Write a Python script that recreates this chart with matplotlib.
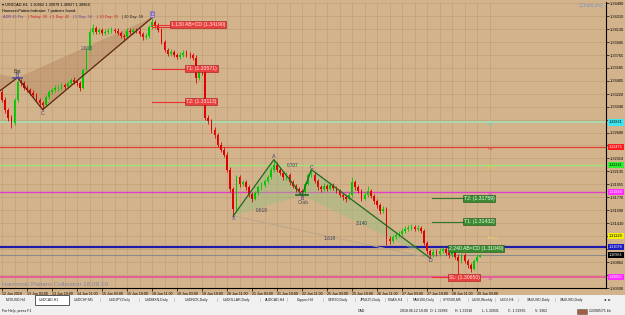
import matplotlib
matplotlib.use("Agg")
import matplotlib.pyplot as plt
import matplotlib.transforms as mtransforms
from matplotlib.patches import Polygon, Rectangle

plt.rcParams["font.family"] = ["Liberation Sans", "DejaVu Sans"]

# ---------------- data ----------------
first_open = 1.3325
closes = [1.3314, 1.3300, 1.3289, 1.3281, 1.3314, 1.3339, 1.3337, 1.3331, 1.3328, 1.3324,
          1.3320, 1.3314, 1.3309, 1.3306, 1.3318, 1.3325, 1.3328, 1.3330, 1.3331, 1.3334,
          1.3332, 1.3337, 1.3342, 1.3339, 1.3337, 1.3331, 1.3356, 1.3384, 1.3409, 1.3415,
          1.3409, 1.3412, 1.3408, 1.3409, 1.3411, 1.3412, 1.3411, 1.3408, 1.3403, 1.3402,
          1.3411, 1.3409, 1.3412, 1.3411, 1.3406, 1.3402, 1.3403, 1.3416, 1.3423, 1.3418,
          1.3412, 1.3395, 1.3384, 1.3378, 1.3381, 1.3377, 1.3374, 1.3377, 1.3380, 1.3377,
          1.3376, 1.3373, 1.3345, 1.3356, 1.3353, 1.3289, 1.3284, 1.3272, 1.3265, 1.3251,
          1.3244, 1.3237, 1.3216, 1.3189, 1.3161, 1.3205, 1.3196, 1.3198, 1.3191, 1.3182,
          1.3175, 1.3183, 1.3191, 1.3194, 1.3200, 1.3205, 1.3216, 1.3223, 1.3216, 1.3211,
          1.3205, 1.3208, 1.3198, 1.3193, 1.3189, 1.3186, 1.3184, 1.3196, 1.3208, 1.3209,
          1.3200, 1.3191, 1.3189, 1.3193, 1.3189, 1.3194, 1.3190, 1.3186, 1.3180, 1.3177,
          1.3175, 1.3180, 1.3198, 1.3191, 1.3186, 1.3175, 1.3180, 1.3186, 1.3179, 1.3172,
          1.3166, 1.3158, 1.3161, 1.3119, 1.3116, 1.3122, 1.3124, 1.3126, 1.3130, 1.3133,
          1.3134, 1.3136, 1.3133, 1.3134, 1.3130, 1.3113, 1.3102, 1.3096, 1.3101, 1.3098,
          1.3102, 1.3105, 1.3099, 1.3096, 1.3101, 1.3094, 1.3088, 1.3096, 1.3088, 1.3082,
          1.3077, 1.3088, 1.3094, 1.3096]
highs = [1.3329, 1.3318, 1.3303, 1.3293, 1.3317, 1.3345, 1.3343, 1.3340, 1.3334, 1.3331,
         1.3327, 1.3323, 1.3317, 1.3312, 1.3321, 1.3328, 1.3331, 1.3334, 1.3335, 1.3337,
         1.3337, 1.3340, 1.3345, 1.3346, 1.3342, 1.3340, 1.3359, 1.3387, 1.3413, 1.3420,
         1.3418, 1.3415, 1.3415, 1.3413, 1.3414, 1.3416, 1.3415, 1.3414, 1.3411, 1.3406,
         1.3414, 1.3414, 1.3415, 1.3415, 1.3414, 1.3409, 1.3407, 1.3419, 1.3429, 1.3426,
         1.3421, 1.3415, 1.3398, 1.3387, 1.3385, 1.3384, 1.3380, 1.3381, 1.3384, 1.3383,
         1.3381, 1.3379, 1.3376, 1.3360, 1.3361, 1.3356, 1.3292, 1.3287, 1.3276, 1.3268,
         1.3255, 1.3247, 1.3240, 1.3219, 1.3192, 1.3209, 1.3208, 1.3202, 1.3201, 1.3194,
         1.3185, 1.3186, 1.3194, 1.3198, 1.3203, 1.3209, 1.3219, 1.3230, 1.3226, 1.3219,
         1.3214, 1.3212, 1.3211, 1.3201, 1.3196, 1.3192, 1.3189, 1.3199, 1.3211, 1.3216,
         1.3212, 1.3203, 1.3194, 1.3197, 1.3196, 1.3198, 1.3197, 1.3193, 1.3189, 1.3183,
         1.3180, 1.3184, 1.3205, 1.3201, 1.3194, 1.3189, 1.3184, 1.3193, 1.3189, 1.3182,
         1.3175, 1.3169, 1.3165, 1.3164, 1.3123, 1.3125, 1.3128, 1.3130, 1.3134, 1.3137,
         1.3138, 1.3140, 1.3139, 1.3138, 1.3137, 1.3133, 1.3116, 1.3105, 1.3104, 1.3104,
         1.3106, 1.3108, 1.3108, 1.3102, 1.3104, 1.3104, 1.3097, 1.3099, 1.3099, 1.3091,
         1.3085, 1.3091, 1.3097, 1.3098]
lows = [1.3311, 1.3296, 1.3284, 1.3275, 1.3279, 1.3311, 1.3333, 1.3328, 1.3325, 1.3320,
        1.3317, 1.3311, 1.3305, 1.3300, 1.3304, 1.3315, 1.3322, 1.3325, 1.3326, 1.3328,
        1.3329, 1.3330, 1.3335, 1.3336, 1.3333, 1.3326, 1.3329, 1.3354, 1.3382, 1.3406,
        1.3406, 1.3406, 1.3405, 1.3405, 1.3406, 1.3408, 1.3408, 1.3405, 1.3400, 1.3398,
        1.3400, 1.3406, 1.3406, 1.3408, 1.3403, 1.3398, 1.3399, 1.3401, 1.3413, 1.3415,
        1.3409, 1.3392, 1.3381, 1.3375, 1.3375, 1.3374, 1.3371, 1.3371, 1.3374, 1.3374,
        1.3373, 1.3369, 1.3338, 1.3342, 1.3349, 1.3285, 1.3280, 1.3268, 1.3261, 1.3247,
        1.3240, 1.3233, 1.3212, 1.3185, 1.3151, 1.3158, 1.3192, 1.3193, 1.3188, 1.3178,
        1.3171, 1.3173, 1.3181, 1.3188, 1.3191, 1.3197, 1.3203, 1.3213, 1.3213, 1.3208,
        1.3202, 1.3202, 1.3195, 1.3190, 1.3185, 1.3183, 1.3180, 1.3182, 1.3194, 1.3205,
        1.3197, 1.3188, 1.3185, 1.3186, 1.3186, 1.3187, 1.3187, 1.3183, 1.3177, 1.3173,
        1.3171, 1.3173, 1.3178, 1.3188, 1.3183, 1.3172, 1.3173, 1.3178, 1.3176, 1.3168,
        1.3162, 1.3154, 1.3155, 1.3110, 1.3112, 1.3113, 1.3119, 1.3121, 1.3123, 1.3127,
        1.3130, 1.3131, 1.3130, 1.3130, 1.3127, 1.3110, 1.3098, 1.3092, 1.3093, 1.3095,
        1.3095, 1.3099, 1.3096, 1.3092, 1.3093, 1.3090, 1.3063, 1.3085, 1.3085, 1.3078,
        1.3073, 1.3075, 1.3086, 1.3093]

date_labels = ["12 Jun 2018", "13 Jun 03:00", "13 Jun 19:00", "14 Jun 11:00", "15 Jun 03:00",
               "15 Jun 19:00", "18 Jun 11:00", "19 Jun 03:00", "19 Jun 19:00", "20 Jun 11:00",
               "21 Jun 03:00", "21 Jun 19:00", "22 Jun 11:00", "25 Jun 03:00", "25 Jun 19:00",
               "26 Jun 11:00", "27 Jun 03:00", "27 Jun 19:00", "28 Jun 11:00", "29 Jun 03:00"]
price_ticks = [1.34490, 1.34310, 1.34130, 1.33945, 1.33765, 1.33585, 1.33405, 1.33220,
               1.33040, 1.32860, 1.32680, 1.32500, 1.32318, 1.32135, 1.31955, 1.31770,
               1.31590, 1.31410, 1.31228, 1.31045, 1.30862, 1.30680, 1.30500]

# harmonic patterns: X A B C D
bat_idx = [-12, -6, 5, 13, 48]
bat_px = [1.3358, 1.3309, 1.3345, 1.3300, 1.3429]
crab_idx = [74, 87, 96, 99, 137]
crab_px = [1.3151, 1.3230, 1.3180, 1.3216, 1.3092]
crab_ratios = ["0.618", "0.707", "3.140", "1.618"]

bat_target_px = [1.34190, 1.33571, 1.33113]
bat_target_txt = ["1.130 AB=CD (1.34190)", "T1: (1.33571)", "T2: (1.33113)"]
crab_target_px = [1.31759, 1.31432, 1.31049, 1.30650]
crab_target_txt = ["T2: (1.31759)", "T1: (1.31432)", "2.240 AB=CD (1.31049)", "SL: (1.30650)"]

level_px = [1.32821, 1.32475, 1.32221, 1.31844, 1.31229, 1.31076, 1.30964, 1.30657]
level_tag = ["R2", "R1", "M3", "S1", "Pivot", "", "", "S3"]

tabs = ["NZDUSD,H4", "USDCAD,H1", "USDCHF,M1", "USDJPY,Daily", "USDMXN,Daily", "USDNOK,Daily",
        "USDOLLAR,Daily", "AUDCAD,H4", "Copper,H4", "GER30,Daily", "JPN225,Daily", "NGAS,H4",
        "NAS100,Daily", "SPX500,M5", "US30,Weekly", "USOil,H4", "XAGUSD,Daily", "XAUUSD,Daily"]
status_txt = ["For Help, press F1", "CAD", "2018.06.12 10:00", "O: 1.32886", "H: 1.32916",
              "L: 1.32831", "C: 1.32835", "V: 3362", "222905/71 kb"]

# ---------------- styles ----------------
BG = "#d3b38b"
GRID = "#c2a179"
UP = "#00c800"
DN = "#e00000"
level_style = [  # line colour, line width, box colour, box text colour, tag colour
    ("#a6dcb0", 1.3, "#3fe6f0", "#000000", "#5fd0d0"),
    ("#e23a30", 0.8, "#ff1c1c", "#ffffff", "#e04030"),
    ("#9ee27a", 1.0, "#30f030", "#000000", "#d8d040"),
    ("#e040c8", 1.0, "#ff30ff", "#ffffff", "#e040c8"),
    (None, 0.0, "#f4f000", "#000000", "#f0e060"),
    ("#1c1ca8", 1.6, "#1c1cc0", "#ffffff", None),
    ("#8a8a8a", 0.8, "#000000", "#ffffff", None),
    ("#e8509a", 1.2, "#ff30ff", "#ffffff", "#e050c0"),
]
tab_x = [6, 39, 74, 109, 145, 185, 223, 265, 297, 328, 360, 388, 413, 443, 472, 500, 527, 560]
sep_x = [100, 139, 174, 217, 260, 287, 323, 355, 385, 407, 440, 468, 495, 518, 555]
status_x = [2, 358, 400, 430, 455, 482, 508, 535, 589]

W, H = 625, 315
fig = plt.figure(figsize=(W / 100, H / 100), dpi=100)
fig.patch.set_facecolor("#f0f0f0")


def fx(x):
    return x / W


def fy(y):
    return 1 - y / H


# chart window background (incl. axis label strips)
bgax = fig.add_axes([0, fy(295), 1, 295 / H])
bgax.set_facecolor(BG)
bgax.set_xticks([])
bgax.set_yticks([])
for s in bgax.spines.values():
    s.set_visible(False)

ax = fig.add_axes([0, fy(288), fx(606), (288 - 2) / H])
ax.set_facecolor(BG)
n = len(closes)
idx = list(range(n))
opens = [first_open] + closes[:-1]
ax.set_xlim(-0.64, 193.28)
ax.set_ylim(1.30500, 1.34510)

# grid + axes; price labels hidden where a level box sits on top of them
ax.set_yticks(price_ticks)
ylabels = []
for v in price_ticks:
    hidden = any(abs(v - p) < 0.0005 for p in level_px)
    ylabels.append("" if hidden else f"{v:.5f}")
ax.set_yticklabels(ylabels)
ax.set_xticks([8 * k for k in range(len(date_labels))])
ax.set_xticklabels(date_labels, ha="left")
ax.set_xticks([4 + 8 * k for k in range(len(date_labels))], minor=True)
ax.grid(True, which="both", color=GRID, lw=0.5, zorder=0)
ax.set_axisbelow(True)
ax.yaxis.tick_right()
ax.tick_params(axis="y", labelsize=2.8, length=2, width=0.5, pad=1.0, colors="black")
ax.tick_params(axis="x", labelsize=2.6, length=2, width=0.5, pad=0.8, colors="black")
ax.tick_params(axis="x", which="minor", length=0)
for s in ("top", "left"):
    ax.spines[s].set_visible(False)
for s in ("right", "bottom"):
    ax.spines[s].set_color("black")
    ax.spines[s].set_linewidth(0.8)

blend = mtransforms.blended_transform_factory(ax.transAxes, ax.transData)

# level lines with price boxes on the axis
for p, tag, st in zip(level_px, level_tag, level_style):
    lc, lw, bc, tc, gc = st
    if lc is not None:
        ax.axhline(p, color=lc, lw=lw, zorder=1)
    if tag:
        ax.text(155.5, p - 0.00005, tag, fontsize=3.2, color=gc, va="top", zorder=6)
    ax.text(1.005, p, f"{p:.5f}", transform=blend, fontsize=2.7, color=tc, va="center",
            ha="left", clip_on=False, zorder=9,
            bbox=dict(boxstyle="square,pad=0.3", fc=bc, ec="none"))


# pattern fills
def tri(pts_i, pts_p, color, alpha):
    poly = Polygon(list(zip(pts_i, pts_p)), closed=True, fc=color, ec="none", alpha=alpha, zorder=1.5)
    ax.add_patch(poly)


tri(bat_idx[0:3], bat_px[0:3], "#a87850", 0.35)
tri(bat_idx[2:5], bat_px[2:5], "#a87850", 0.35)
tri(crab_idx[0:3], crab_px[0:3], "#98c080", 0.45)
tri(crab_idx[2:5], crab_px[2:5], "#98c080", 0.45)
ax.plot([crab_idx[0], crab_idx[4]], [crab_px[0], crab_px[4]], color="#b8a68a", lw=0.7, zorder=1.6)

# candles
colors = [UP if c >= o else DN for o, c in zip(opens, closes)]
ax.vlines(idx, lows, highs, colors=colors, lw=0.6, zorder=3)
bottoms = [min(o, c) for o, c in zip(opens, closes)]
heights = [max(abs(c - o), 0.00003) for o, c in zip(opens, closes)]
ax.bar(idx, heights, bottom=bottoms, width=0.55, color=colors, zorder=3)

# pattern legs
ax.plot(bat_idx, bat_px, color="#5a2410", lw=0.9, zorder=4)
ax.plot(crab_idx, crab_px, color="#1f6a1f", lw=0.9, zorder=4)

lab_kw = dict(fontsize=3.8, color="#3c3c8c", ha="center", zorder=7)
ax.text(bat_idx[2], bat_px[2] + 0.0003, "B", va="center", **lab_kw)
ax.text(bat_idx[2], bat_px[2] + 0.0009, "Bat", va="center", fontsize=3.6, color="#303030", ha="center")
ax.plot([bat_idx[2] - 1.5, bat_idx[2] + 1.5], [bat_px[2], bat_px[2]], color="#5050a0", lw=1.2, zorder=5)
ax.text(bat_idx[3], bat_px[3] - 0.0005, "C", va="center", **lab_kw)
ax.text(bat_idx[4], bat_px[4] + 0.0005, "D", va="center", fontsize=3.6, color="#3c3c8c", ha="center",
        zorder=7, bbox=dict(boxstyle="square,pad=0.1", fc="#c8b0e0", ec="#7060b0", lw=0.4))
ax.text(27, 1.3386, "2.618", fontsize=3.4, color="#4a4a7a", ha="center", va="center", zorder=7)

ax.text(crab_idx[0], crab_px[0] - 0.0004, "X", va="center", **lab_kw)
ax.text(crab_idx[1], crab_px[1] + 0.0004, "A", va="center", **lab_kw)
ax.text(crab_idx[2], crab_px[2] - 0.0004, "B", va="center", **lab_kw)
ax.text(crab_idx[2] + 0.5, crab_px[2] - 0.0010, "Crab", va="center", fontsize=3.6, color="#505050",
        ha="center", zorder=7)
ax.plot([crab_idx[2] - 2, crab_idx[2] + 2], [crab_px[2], crab_px[2]], color="#1f6a1f", lw=1.2, zorder=5)
ax.text(crab_idx[3], crab_px[3] + 0.0003, "C", va="center", **lab_kw)
ax.text(crab_idx[4], crab_px[4] - 0.0004, "D", va="center", **lab_kw)
ratio_pos = [(83, 1.3159), (93, 1.3222), (115, 1.3140), (105, 1.3120)]
for (xi, yp), txt in zip(ratio_pos, crab_ratios):
    ax.text(xi, yp, txt, fontsize=3.4, color="#3a3a5a", ha="center", va="center", zorder=7)

# bat targets (red)
red_box = dict(boxstyle="square,pad=0.2", fc="#ea4040", ec="#a01818", lw=0.4)
ax.plot([48, 53.8], [bat_target_px[0], bat_target_px[0]], color="#ea3030", lw=0.8, zorder=5)
ax.plot([48, 53.8], [bat_target_px[0] - 0.0003, bat_target_px[0] - 0.0003], color="#ea3030", lw=0.8, zorder=5)
ax.text(54.0, bat_target_px[0], bat_target_txt[0], fontsize=3.7, color="#ffe8e0", va="center", zorder=8, bbox=red_box)
for p, t in zip(bat_target_px[1:], bat_target_txt[1:]):
    ax.plot([48, 58.6], [p, p], color="#ea3030", lw=0.8, zorder=5)
    ax.text(58.8, p, t, fontsize=3.7, color="#ffe8e0", va="center", zorder=8, bbox=red_box)

# crab targets (green / red stop)
green_box = dict(boxstyle="square,pad=0.2", fc="#3a8a30", ec="#1c501c", lw=0.4)
for p, t in zip(crab_target_px[:2], crab_target_txt[:2]):
    ax.plot([137.6, 147.5], [p, p], color="#2f7a2a", lw=0.8, zorder=5)
    ax.text(147.7, p, t, fontsize=3.7, color="#f0fff0", va="center", zorder=8, bbox=green_box)
ax.text(142.9, crab_target_px[2], crab_target_txt[2], fontsize=3.7, color="#f0fff0", va="center",
        zorder=8, bbox=green_box)
ax.plot([137.6, 142.7], [crab_target_px[3], crab_target_px[3]], color="#ea3030", lw=0.8, zorder=5)
ax.text(142.9, crab_target_px[3], crab_target_txt[3], fontsize=3.7, color="#ffe8e0", va="center",
        zorder=8, bbox=red_box)

# ---------------- chart texts ----------------
fig.text(fx(2), fy(5), "\u25be USDCAD,H1  1.30962 1.30979 1.30927 1.30964", fontsize=2.8, va="center")
fig.text(fx(2), fy(11), "HarmonicPatternIndicator: 7 patterns found.", fontsize=2.8, va="center")
adr_parts = [("ADR 45 Pts", "#6a3aa0", 3), ("| Today: 20", "#d02020", 28), ("| 1 Day: 42", "#d02020", 50),
             ("| 5 Day: 54", "#6a3aa0", 73), ("| 10 Day: 55", "#d02020", 97), ("| 20 Day: 58", "#202020", 122)]
for t, c, x in adr_parts:
    fig.text(fx(x), fy(17), t, fontsize=2.8, color=c, va="center")
fig.text(fx(580), fy(6), "[ChartLine]", fontsize=3.4, color="#7a9ac0", va="center")
fig.text(fx(2), fy(284), "Harmonic Pattern Collection 18.09.10", fontsize=4.6, color="#8686a6", va="center")

# ---------------- tab bar ----------------
fig.add_artist(Rectangle((0, fy(306)), 1, (306 - 295) / H, transform=fig.transFigure, fc="#f0f0f0", ec="none"))
fig.add_artist(Rectangle((fx(35), fy(305)), fx(34), 10 / H, transform=fig.transFigure, fc="white", ec="#404040", lw=0.6))
for t, x in zip(tabs, tab_x):
    fig.text(fx(x), fy(300), t, fontsize=2.5, color="#202020", va="center")
for x in sep_x:
    fig.text(fx(x), fy(300), "|", fontsize=2.6, color="#808080", va="center")
fig.add_artist(Rectangle((fx(601), fy(305)), fx(24), 10 / H, transform=fig.transFigure, fc="#f0f0f0", ec="none"))
fig.text(fx(604), fy(300), "\u25c2  \u25b8", fontsize=3.0, color="black", va="center")

# ---------------- status bar ----------------
for t, x in zip(status_txt, status_x):
    fig.text(fx(x), fy(311), t, fontsize=2.5, color="#101010", va="center")
fig.add_artist(Rectangle((fx(577), fy(313.5)), fx(10), 5 / H, transform=fig.transFigure,
                         fc="#a06040", ec="#606060", lw=0.4))

fig.savefig("out.png", dpi=100, facecolor=fig.get_facecolor())
